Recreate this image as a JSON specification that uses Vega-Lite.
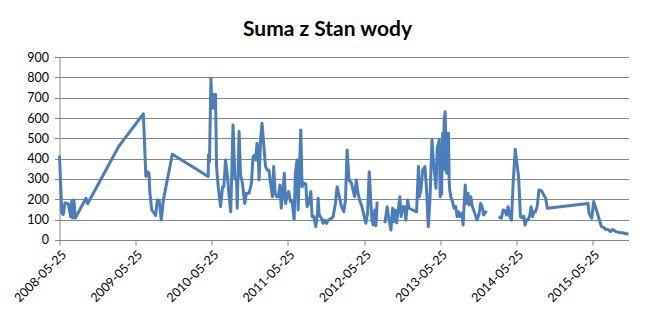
{
  "$schema": "https://vega.github.io/schema/vega-lite/v6.json",
  "width": 569,
  "height": 183,
  "autosize": "none",
  "padding": {"left": 59.5, "top": 57, "right": 26.4, "bottom": 73},
  "background": "white",
  "title": {
    "text": "Suma z Stan wody",
    "font": "Lato",
    "fontSize": 21,
    "fontWeight": "bold",
    "color": "#000000",
    "anchor": "middle",
    "dx": -16.5,
    "baseline": "alphabetic",
    "offset": -6
  },
  "config": {
    "view": {"stroke": null},
    "axis": {
      "labelFont": "Lato",
      "labelFontSize": 12.5,
      "labelColor": "#000000",
      "domainColor": "#868686",
      "tickColor": "#868686",
      "gridColor": "#868686",
      "domainWidth": 1,
      "tickWidth": 1,
      "gridWidth": 1,
      "tickSize": 5,
      "title": null
    }
  },
  "data": {
    "values": [
      {"date": "2008-05-25", "v": 415},
      {"date": "2008-06-05", "v": 133},
      {"date": "2008-06-12", "v": 125},
      {"date": "2008-06-20", "v": 182},
      {"date": "2008-07-06", "v": 178},
      {"date": "2008-07-18", "v": 115},
      {"date": "2008-07-22", "v": 190},
      {"date": "2008-07-27", "v": 108},
      {"date": "2008-08-02", "v": 197},
      {"date": "2008-08-09", "v": 108},
      {"date": "2008-09-29", "v": 205},
      {"date": "2008-10-07", "v": 178},
      {"date": "2009-03-06", "v": 462},
      {"date": "2009-07-01", "v": 620},
      {"date": "2009-07-13", "v": 312},
      {"date": "2009-07-21", "v": 335},
      {"date": "2009-07-28", "v": 330},
      {"date": "2009-08-01", "v": 238},
      {"date": "2009-08-10", "v": 148},
      {"date": "2009-08-21", "v": 133},
      {"date": "2009-08-29", "v": 120},
      {"date": "2009-09-06", "v": 197},
      {"date": "2009-09-15", "v": 195},
      {"date": "2009-09-25", "v": 98},
      {"date": "2009-10-05", "v": 197},
      {"date": "2009-11-17", "v": 422},
      {"date": "2010-05-08", "v": 312},
      {"date": "2010-05-09", "v": 418},
      {"date": "2010-05-14", "v": 386},
      {"date": "2010-05-21", "v": 795},
      {"date": "2010-05-26", "v": 648},
      {"date": "2010-05-30", "v": 717},
      {"date": "2010-06-05", "v": 648},
      {"date": "2010-06-12", "v": 717},
      {"date": "2010-06-17", "v": 361},
      {"date": "2010-06-25", "v": 262},
      {"date": "2010-07-06", "v": 164},
      {"date": "2010-07-16", "v": 262},
      {"date": "2010-07-22", "v": 262},
      {"date": "2010-07-30", "v": 394},
      {"date": "2010-08-07", "v": 328},
      {"date": "2010-08-15", "v": 230},
      {"date": "2010-08-24", "v": 139},
      {"date": "2010-09-04", "v": 566},
      {"date": "2010-09-13", "v": 300},
      {"date": "2010-09-21", "v": 295},
      {"date": "2010-09-24", "v": 156},
      {"date": "2010-10-03", "v": 533},
      {"date": "2010-10-10", "v": 320},
      {"date": "2010-10-19", "v": 279},
      {"date": "2010-10-30", "v": 180},
      {"date": "2010-11-07", "v": 230},
      {"date": "2010-11-20", "v": 230},
      {"date": "2010-12-01", "v": 279},
      {"date": "2010-12-09", "v": 410},
      {"date": "2010-12-17", "v": 418},
      {"date": "2010-12-22", "v": 394},
      {"date": "2010-12-28", "v": 476},
      {"date": "2011-01-02", "v": 443},
      {"date": "2011-01-07", "v": 295},
      {"date": "2011-01-14", "v": 492},
      {"date": "2011-01-21", "v": 574},
      {"date": "2011-01-30", "v": 459},
      {"date": "2011-02-07", "v": 361},
      {"date": "2011-02-15", "v": 344},
      {"date": "2011-02-23", "v": 344},
      {"date": "2011-03-03", "v": 279},
      {"date": "2011-03-12", "v": 213},
      {"date": "2011-03-18", "v": 361},
      {"date": "2011-03-25", "v": 230},
      {"date": "2011-04-01", "v": 213},
      {"date": "2011-04-09", "v": 213},
      {"date": "2011-04-17", "v": 271},
      {"date": "2011-04-23", "v": 156},
      {"date": "2011-04-30", "v": 230},
      {"date": "2011-05-08", "v": 328},
      {"date": "2011-05-14", "v": 180},
      {"date": "2011-05-22", "v": 221},
      {"date": "2011-05-29", "v": 238},
      {"date": "2011-06-06", "v": 189},
      {"date": "2011-06-14", "v": 189},
      {"date": "2011-06-24", "v": 102},
      {"date": "2011-06-30", "v": 328},
      {"date": "2011-07-08", "v": 394},
      {"date": "2011-07-13", "v": 148},
      {"date": "2011-07-21", "v": 394},
      {"date": "2011-07-26", "v": 541},
      {"date": "2011-08-01", "v": 262},
      {"date": "2011-08-09", "v": 279},
      {"date": "2011-08-19", "v": 276},
      {"date": "2011-08-25", "v": 164},
      {"date": "2011-09-02", "v": 180},
      {"date": "2011-09-12", "v": 238},
      {"date": "2011-09-18", "v": 115},
      {"date": "2011-09-26", "v": 115},
      {"date": "2011-10-06", "v": 66},
      {"date": "2011-10-14", "v": 131},
      {"date": "2011-10-17", "v": 205},
      {"date": "2011-10-22", "v": 123},
      {"date": "2011-11-02", "v": 107},
      {"date": "2011-11-10", "v": 82},
      {"date": "2011-11-18", "v": 98},
      {"date": "2011-11-26", "v": 82},
      {"date": "2011-12-04", "v": 98},
      {"date": "2011-12-15", "v": 102},
      {"date": "2011-12-28", "v": 115},
      {"date": "2012-01-08", "v": 180},
      {"date": "2012-01-16", "v": 262},
      {"date": "2012-01-25", "v": 221},
      {"date": "2012-02-06", "v": 164},
      {"date": "2012-02-17", "v": 139},
      {"date": "2012-02-25", "v": 197},
      {"date": "2012-03-04", "v": 443},
      {"date": "2012-03-13", "v": 295},
      {"date": "2012-03-25", "v": 279},
      {"date": "2012-04-01", "v": 246},
      {"date": "2012-04-09", "v": 213},
      {"date": "2012-04-17", "v": 295},
      {"date": "2012-04-25", "v": 230},
      {"date": "2012-05-03", "v": 197},
      {"date": "2012-05-14", "v": 164},
      {"date": "2012-05-25", "v": 115},
      {"date": "2012-06-02", "v": 82},
      {"date": "2012-06-10", "v": 131},
      {"date": "2012-06-18", "v": 336},
      {"date": "2012-06-25", "v": 197},
      {"date": "2012-07-01", "v": 98},
      {"date": "2012-07-07", "v": 74},
      {"date": "2012-07-15", "v": 148},
      {"date": "2012-07-20", "v": 70},
      {"date": "2012-07-26", "v": 189},
      {"date": "2012-08-15", "v": null},
      {"date": "2012-09-01", "v": 82},
      {"date": "2012-09-12", "v": 164},
      {"date": "2012-09-20", "v": 107},
      {"date": "2012-09-30", "v": 49},
      {"date": "2012-10-08", "v": 156},
      {"date": "2012-10-14", "v": 90},
      {"date": "2012-10-20", "v": 148},
      {"date": "2012-10-27", "v": 85},
      {"date": "2012-11-04", "v": 148},
      {"date": "2012-11-12", "v": 213},
      {"date": "2012-11-18", "v": 115},
      {"date": "2012-11-25", "v": 164},
      {"date": "2012-12-03", "v": 164},
      {"date": "2012-12-11", "v": 98},
      {"date": "2012-12-19", "v": 197},
      {"date": "2012-12-26", "v": 156},
      {"date": "2013-01-07", "v": 151},
      {"date": "2013-01-18", "v": 144},
      {"date": "2013-01-31", "v": 139},
      {"date": "2013-02-09", "v": 361},
      {"date": "2013-02-13", "v": 213},
      {"date": "2013-02-21", "v": 246},
      {"date": "2013-03-01", "v": 344},
      {"date": "2013-03-12", "v": 361},
      {"date": "2013-03-20", "v": 246},
      {"date": "2013-03-28", "v": 66},
      {"date": "2013-04-05", "v": 197},
      {"date": "2013-04-15", "v": 492},
      {"date": "2013-04-21", "v": 394},
      {"date": "2013-04-29", "v": 312},
      {"date": "2013-05-04", "v": 254},
      {"date": "2013-05-10", "v": 451},
      {"date": "2013-05-20", "v": 492},
      {"date": "2013-05-24", "v": 213},
      {"date": "2013-05-31", "v": 230},
      {"date": "2013-06-05", "v": 525},
      {"date": "2013-06-09", "v": 344},
      {"date": "2013-06-12", "v": 582},
      {"date": "2013-06-17", "v": 631},
      {"date": "2013-06-24", "v": 328},
      {"date": "2013-06-28", "v": 525},
      {"date": "2013-07-03", "v": 525},
      {"date": "2013-07-06", "v": 295},
      {"date": "2013-07-09", "v": 246},
      {"date": "2013-07-14", "v": 213},
      {"date": "2013-07-22", "v": 189},
      {"date": "2013-07-30", "v": 156},
      {"date": "2013-08-07", "v": 164},
      {"date": "2013-08-13", "v": 115},
      {"date": "2013-08-20", "v": 139},
      {"date": "2013-08-26", "v": 115},
      {"date": "2013-09-05", "v": 131},
      {"date": "2013-09-11", "v": 74},
      {"date": "2013-09-21", "v": 271},
      {"date": "2013-09-27", "v": 180},
      {"date": "2013-10-05", "v": 230},
      {"date": "2013-10-10", "v": 172},
      {"date": "2013-10-18", "v": 213},
      {"date": "2013-10-26", "v": 164},
      {"date": "2013-11-06", "v": 131},
      {"date": "2013-11-17", "v": 98},
      {"date": "2013-11-27", "v": 131},
      {"date": "2013-12-04", "v": 180},
      {"date": "2013-12-11", "v": 164},
      {"date": "2013-12-19", "v": 123},
      {"date": "2013-12-27", "v": 139},
      {"date": "2014-01-04", "v": 135},
      {"date": "2014-01-25", "v": null},
      {"date": "2014-03-01", "v": 115},
      {"date": "2014-03-14", "v": 107},
      {"date": "2014-03-22", "v": 148},
      {"date": "2014-03-30", "v": 144},
      {"date": "2014-04-07", "v": 123},
      {"date": "2014-04-15", "v": 164},
      {"date": "2014-04-23", "v": 115},
      {"date": "2014-05-01", "v": 98},
      {"date": "2014-05-09", "v": 279},
      {"date": "2014-05-19", "v": 446},
      {"date": "2014-05-25", "v": 394},
      {"date": "2014-06-04", "v": 312},
      {"date": "2014-06-13", "v": 115},
      {"date": "2014-06-21", "v": 110},
      {"date": "2014-06-29", "v": 118},
      {"date": "2014-07-05", "v": 74},
      {"date": "2014-07-12", "v": 98},
      {"date": "2014-07-20", "v": 98},
      {"date": "2014-07-28", "v": 123},
      {"date": "2014-08-03", "v": 164},
      {"date": "2014-08-10", "v": 115},
      {"date": "2014-08-17", "v": 139},
      {"date": "2014-08-24", "v": 139},
      {"date": "2014-09-01", "v": 164},
      {"date": "2014-09-10", "v": 246},
      {"date": "2014-09-22", "v": 243},
      {"date": "2014-10-03", "v": 221},
      {"date": "2014-10-12", "v": 205},
      {"date": "2014-10-20", "v": 156},
      {"date": "2015-05-03", "v": 180},
      {"date": "2015-05-08", "v": 131},
      {"date": "2015-05-21", "v": 107},
      {"date": "2015-05-30", "v": 189},
      {"date": "2015-06-12", "v": 148},
      {"date": "2015-06-24", "v": 107},
      {"date": "2015-07-06", "v": 66},
      {"date": "2015-07-17", "v": 62},
      {"date": "2015-07-26", "v": 52},
      {"date": "2015-08-06", "v": 52},
      {"date": "2015-08-18", "v": 41},
      {"date": "2015-08-30", "v": 52},
      {"date": "2015-09-15", "v": 41},
      {"date": "2015-10-01", "v": 36},
      {"date": "2015-10-14", "v": 36},
      {"date": "2015-10-25", "v": 33},
      {"date": "2015-11-13", "v": 28}
    ]
  },
  "mark": {"type": "line", "color": "#4A7EBB", "strokeWidth": 3, "strokeJoin": "round"},
  "encoding": {
    "x": {
      "field": "date",
      "type": "temporal",
      "scale": {
        "type": "utc",
        "domain": [
          {"year": 2008, "month": 5, "date": 25, "utc": true},
          {"year": 2015, "month": 11, "date": 13, "utc": true}
        ]
      },
      "axis": {
        "values": [
          {"year": 2008, "month": 5, "date": 25, "utc": true},
          {"year": 2009, "month": 5, "date": 25, "utc": true},
          {"year": 2010, "month": 5, "date": 25, "utc": true},
          {"year": 2011, "month": 5, "date": 25, "utc": true},
          {"year": 2012, "month": 5, "date": 25, "utc": true},
          {"year": 2013, "month": 5, "date": 25, "utc": true},
          {"year": 2014, "month": 5, "date": 25, "utc": true},
          {"year": 2015, "month": 5, "date": 25, "utc": true}
        ],
        "format": "%Y-%m-%d",
        "labelAngle": -45,
        "labelPadding": 3,
        "grid": false,
        "labelOverlap": false,
        "labelFlush": false
      }
    },
    "y": {
      "field": "v",
      "type": "quantitative",
      "scale": {"domain": [0, 900], "nice": false, "zero": true},
      "axis": {
        "values": [0, 100, 200, 300, 400, 500, 600, 700, 800, 900],
        "grid": true,
        "labelPadding": 6
      }
    }
  }
}
